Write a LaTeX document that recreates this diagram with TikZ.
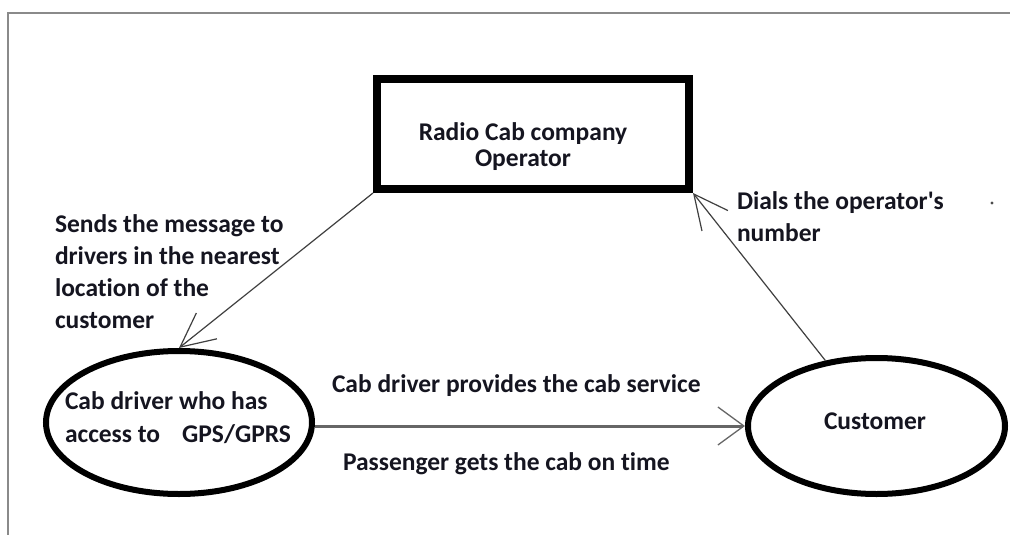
\documentclass[tikz,border=0pt]{standalone}
\usepackage{fontspec}
\setmainfont{Carlito}[Ligatures={NoCommon}]
\usetikzlibrary{shapes.geometric,arrows.meta}
\definecolor{ink}{HTML}{151520}
\definecolor{framegray}{HTML}{8A8A8A}
\begin{document}
\begin{tikzpicture}[x=1pt,y=-1pt,
  lbl/.style={font=\bfseries\fontsize{25.5}{32}\selectfont, text=ink, inner sep=0pt, outer sep=0pt},
  opbox/.style={draw=black, line width=8pt, minimum width=312pt, minimum height=110pt, inner sep=0pt},
  oval/.style={draw=black, ellipse, line width=6pt, inner sep=0pt},
  thinarrow/.style={draw=black!75, line width=1.2pt, -{Straight Barb[length=34pt,width=33pt,line width=1.2pt]}},
  mainarrow/.style={draw=black!60, line width=3pt, -{Straight Barb[length=26pt,width=38pt,line width=1.3pt]}},
]
\useasboundingbox (0,0) rectangle (1010,535);
\fill[white] (0,0) rectangle (1010,535);
% frame
\draw[framegray, line width=2pt] (8,535) -- (8,13) -- (1010,13);

% main nodes
\node[opbox] (op) at (533,134) {};
\node[lbl, align=center, anchor=north, font=\bfseries\fontsize{25.5}{26}\selectfont] (optxt) at (523,123) {Radio Cab company\\Operator};

\node[oval, minimum width=266pt, minimum height=143pt] (drv) at (179,422.5) {};
\node[lbl, align=left, anchor=north west, font=\bfseries\fontsize{25.5}{33}\selectfont] (drvtxt) at (65,392) {Cab driver who has\\access to\hspace{22pt}GPS/GPRS};

\node[oval, minimum width=257pt, minimum height=136pt] (cus) at (876.5,426) {};
\node[lbl, anchor=base] (custxt) at (875,429) {Customer};

% labels
\node[lbl, align=left, anchor=north west] (sends) at (55,215) {Sends the message to\\drivers in the nearest\\location of the\\customer};
\node[lbl, align=left, anchor=north west] (dials) at (737,192) {Dials the operator\textquotesingle s\\number};
\node[lbl, anchor=base west] (provides) at (332,392) {Cab driver provides the cab service};
\node[lbl, anchor=base west] (gets) at (343,470) {Passenger gets the cab on time};

% connectors
\draw[thinarrow] (op.south west) -- (drv.north);
\draw[thinarrow] (cus.128) -- (op.south east);
\draw[mainarrow] (cus.west -| drv.east) -- (cus.west);

% stray dot
\fill[black!70] (992,203) circle (1.6pt);
\end{tikzpicture}
\end{document}
